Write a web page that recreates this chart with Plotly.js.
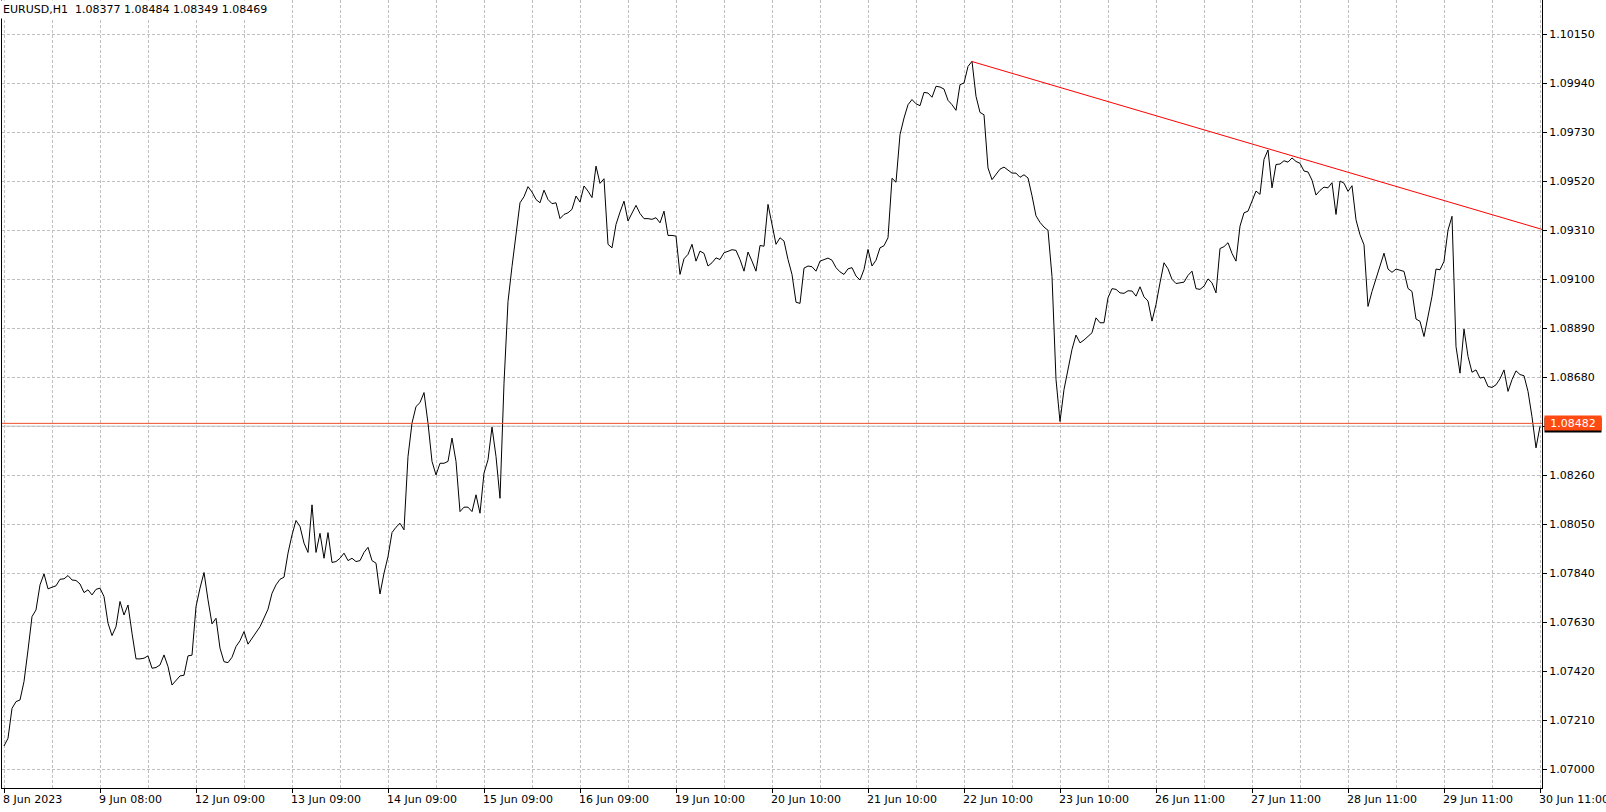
<!DOCTYPE html>
<html><head><meta charset="utf-8">
<script src="https://cdn.plot.ly/plotly-3.0.1.min.js"></script>
<style>html,body{margin:0;padding:0;background:#fff;overflow:hidden}#chart{width:1606px;height:812px}</style>
</head><body><div id="chart"></div>
<script>
const chartTitle = "EURUSD,H1  1.08377 1.08484 1.08349 1.08469";

const closes = [
1.07100,1.07133,1.07261,1.07290,1.07297,1.07376,1.07511,1.07654,1.07683,1.07790,
1.07837,1.07773,1.07780,1.07786,1.07814,1.07816,1.07830,1.07811,1.07809,1.07794,
1.07757,1.07769,1.07747,1.07771,1.07776,1.07740,1.07626,1.07573,1.07611,1.07719,
1.07661,1.07704,1.07583,1.07473,1.07473,1.07476,1.07486,1.07433,1.07436,1.07447,
1.07490,1.07440,1.07361,1.07380,1.07400,1.07403,1.07486,1.07489,1.07697,1.07776,
1.07843,1.07726,1.07623,1.07647,1.07519,1.07461,1.07457,1.07480,1.07526,1.07551,
1.07590,1.07536,1.07561,1.07590,1.07611,1.07648,1.07686,1.07754,1.07790,1.07814,
1.07823,1.07926,1.08004,1.08066,1.08040,1.07969,1.07929,1.08133,1.07929,1.08011,
1.07904,1.08014,1.07886,1.07890,1.07904,1.07926,1.07894,1.07904,1.07890,1.07894,
1.07929,1.07951,1.07894,1.07883,1.07751,1.07840,1.07911,1.08014,1.08037,1.08054,
1.08026,1.08340,1.08483,1.08554,1.08571,1.08614,1.08483,1.08319,1.08261,1.08311,
1.08311,1.08319,1.08419,1.08319,1.08104,1.08123,1.08123,1.08104,1.08176,1.08097,
1.08269,1.08326,1.08466,1.08340,1.08161,1.08654,1.09004,1.09154,1.09290,1.09427,
1.09453,1.09496,1.09473,1.09441,1.09427,1.09481,1.09441,1.09423,1.09427,1.09359,
1.09377,1.09384,1.09399,1.09456,1.09430,1.09499,1.09477,1.09449,1.09584,1.09510,
1.09530,1.09249,1.09234,1.09334,1.09387,1.09434,1.09349,1.09384,1.09416,1.09381,
1.09359,1.09359,1.09356,1.09363,1.09341,1.09391,1.09287,1.09287,1.09284,1.09120,
1.09187,1.09206,1.09249,1.09177,1.09220,1.09210,1.09156,1.09170,1.09191,1.09184,
1.09213,1.09219,1.09226,1.09223,1.09184,1.09134,1.09216,1.09177,1.09134,1.09244,
1.09241,1.09420,1.09334,1.09249,1.09277,1.09263,1.09184,1.09120,1.09001,1.08996,
1.09147,1.09156,1.09153,1.09134,1.09177,1.09184,1.09190,1.09181,1.09149,1.09131,
1.09120,1.09144,1.09149,1.09113,1.09096,1.09141,1.09227,1.09156,1.09181,1.09234,
1.09243,1.09277,1.09532,1.09515,1.09719,1.09790,1.09847,1.09869,1.09851,1.09843,
1.09900,1.09897,1.09879,1.09926,1.09923,1.09914,1.09866,1.09847,1.09823,1.09933,
1.09940,1.10011,1.10033,1.09883,1.09814,1.09804,1.09576,1.09526,1.09551,1.09571,
1.09580,1.09566,1.09554,1.09554,1.09536,1.09547,1.09533,1.09457,1.09371,1.09343,
1.09323,1.09309,1.09111,1.08670,1.08490,1.08627,1.08720,1.08799,1.08860,1.08827,
1.08839,1.08853,1.08870,1.08934,1.08913,1.08913,1.09020,1.09059,1.09056,1.09041,
1.09039,1.09050,1.09049,1.09027,1.09067,1.09024,1.09006,1.08920,1.08991,1.09084,
1.09170,1.09144,1.09099,1.09081,1.09084,1.09087,1.09116,1.09134,1.09059,1.09056,
1.09070,1.09101,1.09084,1.09041,1.09231,1.09239,1.09256,1.09210,1.09177,1.09327,
1.09384,1.09391,1.09434,1.09477,1.09463,1.09613,1.09653,1.09491,1.09591,1.09593,
1.09607,1.09601,1.09619,1.09604,1.09596,1.09563,1.09559,1.09524,1.09460,1.09480,
1.09494,1.09491,1.09513,1.09377,1.09520,1.09511,1.09476,1.09500,1.09354,1.09290,
1.09247,1.08983,1.09047,1.09104,1.09151,1.09211,1.09143,1.09129,1.09143,1.09139,
1.09133,1.09060,1.09047,1.08929,1.08919,1.08854,1.08940,1.09026,1.09143,1.09140,
1.09176,1.09310,1.09369,1.08811,1.08697,1.08886,1.08769,1.08701,1.08711,1.08676,
1.08680,1.08640,1.08636,1.08647,1.08673,1.08711,1.08619,1.08669,1.08707,1.08691,
1.08686,1.08619,1.08510,1.08377,1.08469
];

const xTickLabels = ["8 Jun 2023","9 Jun 08:00","12 Jun 09:00","13 Jun 09:00","14 Jun 09:00",
  "15 Jun 09:00","16 Jun 09:00","19 Jun 10:00","20 Jun 10:00","21 Jun 10:00","22 Jun 10:00",
  "23 Jun 10:00","26 Jun 11:00","27 Jun 11:00","28 Jun 11:00","29 Jun 11:00","30 Jun 11:00"];
const xTickBars = [0,24,48,72,96,120,144,168,192,216,240,264,288,312,336,360,384];

const yTickVals = [1.07000,1.07210,1.07420,1.07630,1.07840,1.08050,1.08260,1.08470,
  1.08680,1.08890,1.09100,1.09310,1.09520,1.09730,1.09940,1.10150];
const yTickLabels = ["1.07000","1.07210","1.07420","1.07630","1.07840","1.08050","1.08260","",
  "1.08680","1.08890","1.09100","1.09310","1.09520","1.09730","1.09940","1.10150"];

const trendBars = [242, 384.5];
const trendPrices = [1.10032, 1.09313];

const bidPrice = 1.08482;
const bidLabel = "1.08482";
const greyLevel = 1.08470;

const barIdx = closes.map((_, i) => i);
const xRange = [-0.5, 384.5];
const yRange = [1.069199, 1.1029565];

const FONT = "DejaVu Sans, Tahoma, sans-serif";

const traces = [
  {x: xRange, y: [greyLevel, greyLevel], mode: 'lines', line: {color: '#c0c0c0', width: 1}, hoverinfo: 'skip'},
  {x: barIdx, y: closes, mode: 'lines', line: {color: '#000000', width: 1}, hoverinfo: 'skip'},
  {x: xRange, y: [bidPrice, bidPrice], mode: 'lines', line: {color: '#f0502a', width: 1}, hoverinfo: 'skip'},
  {x: trendBars, y: trendPrices, mode: 'lines', line: {color: '#ff0000', width: 1}, hoverinfo: 'skip'}
];

const annotations = xTickLabels.map((t, i) => ({
  text: t, xref: 'x', x: xTickBars[i], yref: 'paper', y: 0,
  xanchor: 'left', yanchor: 'top', yshift: -3, xshift: -3, showarrow: false,
  font: {family: FONT, size: 11, color: '#000'}
}));

annotations.push({
  text: chartTitle, xref: 'paper', x: 0, yref: 'paper', y: 1, xanchor: 'left', yanchor: 'top',
  showarrow: false, bgcolor: '#ffffff', borderpad: 2, xshift: -2,
  font: {family: FONT, size: 11, color: '#000'}
});
annotations.push({
  text: ' ', xref: 'paper', x: 1, xanchor: 'left', xshift: 2, yref: 'y', y: bidPrice,
  yanchor: 'middle', yshift: -2, showarrow: false, bgcolor: '#000000', width: 54, height: 12, borderpad: 1,
  font: {family: FONT, size: 11, color: '#000'}
});
annotations.push({
  text: bidLabel, xref: 'paper', x: 1, xanchor: 'left', xshift: 2, yref: 'y', y: bidPrice,
  yanchor: 'middle', showarrow: false, bgcolor: '#ff4a12', width: 54, height: 12, borderpad: 1, align: 'center',
  font: {family: FONT, size: 11, color: '#ffffff'}
});

const layout = {
  width: 1606, height: 812,
  margin: {l: 2, r: 64, t: 0, b: 24, pad: 0},
  paper_bgcolor: '#ffffff', plot_bgcolor: '#ffffff',
  showlegend: false,
  font: {family: FONT, size: 11, color: '#000'},
  xaxis: {
    range: xRange, tickmode: 'array', tickvals: xTickBars, showticklabels: false,
    ticks: 'outside', ticklen: 4, tickcolor: '#000', tickwidth: 1,
    showgrid: true, gridcolor: '#c0c0c0', gridwidth: 1, griddash: '3px,2px',
    minor: {tickmode: 'linear', tick0: 12, dtick: 24, showgrid: true, gridcolor: '#c0c0c0', gridwidth: 1, griddash: '3px,2px', ticks: ''},
    showline: true, linecolor: '#000', linewidth: 1, zeroline: false, fixedrange: true
  },
  yaxis: {
    side: 'right', range: yRange, tickmode: 'array', tickvals: yTickVals, ticktext: yTickLabels,
    ticks: 'outside', ticklen: 4, tickcolor: '#000', tickwidth: 1,
    showgrid: true, gridcolor: '#c0c0c0', gridwidth: 1, griddash: '3px,2px',
    showline: true, linecolor: '#000', linewidth: 1, mirror: true, zeroline: false,
    tickfont: {family: FONT, size: 11, color: '#000'}, fixedrange: true
  },
  annotations: annotations
};

Plotly.newPlot('chart', traces, layout, {displayModeBar: false, staticPlot: true});
</script>
</body></html>
